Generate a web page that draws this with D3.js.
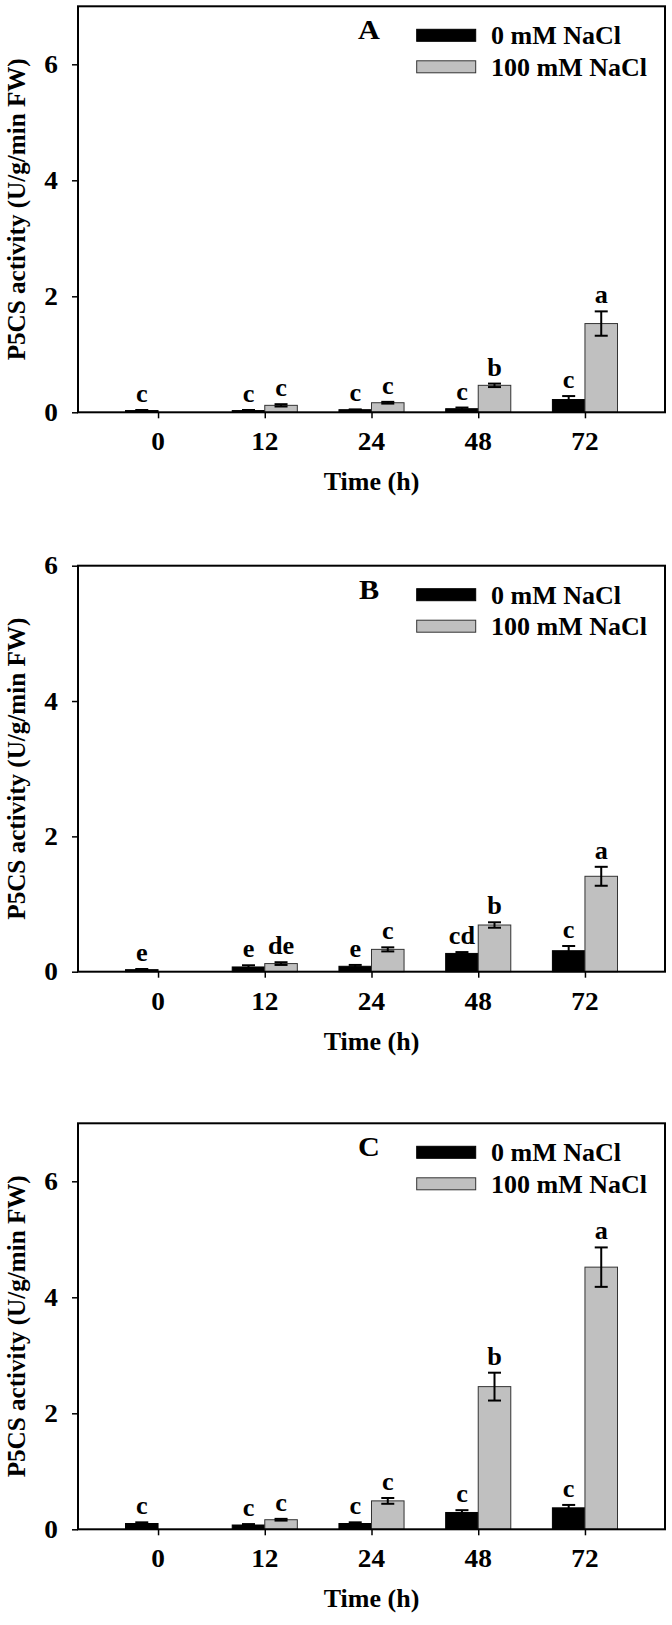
<!DOCTYPE html>
<html>
<head>
<meta charset="utf-8">
<script src="https://cdn.jsdelivr.net/npm/d3@7"></script>
<style>
  html, body { margin: 0; padding: 0; background: #fff; }
  svg { display: block; }
  text { font-family: "Liberation Serif", "Times New Roman", serif; font-weight: bold; fill: #000; }
</style>
</head>
<body>
<svg id="chart" width="672" height="1625"></svg>
<script>
// ---------- data ----------
const categories = ["0", "12", "24", "48", "72"];
const seriesNames = ["0 mM NaCl", "100 mM NaCl"];
const panelLabels = ["A", "B", "C"];
const yMaxes = [7, 6, 7];
const yTickValues = [0, 2, 4, 6];
const xTitle = "Time (h)";
const yTitle = "P5CS activity (U/g/min FW)";

// Panel A
const ctrlA = [0.03, 0.03, 0.045, 0.062, 0.22];
const ctrlErrA = [0.01, 0.01, 0.005, 0.02, 0.06];
const saltA = [null, 0.12, 0.165, 0.465, 1.53];
const saltErrA = [null, 0.02, 0.015, 0.03, 0.21];
const ctrlLettersA = ["c", "c", "c", "c", "c"];
const saltLettersA = ["", "c", "c", "b", "a"];

// Panel B
const ctrlB = [0.03, 0.07, 0.08, 0.27, 0.31];
const ctrlErrB = [0.01, 0.025, 0.02, 0.02, 0.07];
const saltB = [null, 0.12, 0.33, 0.69, 1.41];
const saltErrB = [null, 0.02, 0.03, 0.04, 0.14];
const ctrlLettersB = ["e", "e", "e", "cd", "c"];
const saltLettersB = ["", "de", "c", "b", "a"];

// Panel C
const ctrlC = [0.10, 0.074, 0.10, 0.29, 0.37];
const ctrlErrC = [0.02, 0.016, 0.02, 0.04, 0.05];
const saltC = [null, 0.165, 0.49, 2.46, 4.52];
const saltErrC = [null, 0.015, 0.05, 0.24, 0.34];
const ctrlLettersC = ["c", "c", "c", "c", "c"];
const saltLettersC = ["", "c", "c", "b", "a"];

// ---------- assemble ----------
const panels = [
  {label: panelLabels[0], yMax: yMaxes[0], ctrl: ctrlA, ctrlErr: ctrlErrA, salt: saltA, saltErr: saltErrA, cl: ctrlLettersA, sl: saltLettersA},
  {label: panelLabels[1], yMax: yMaxes[1], ctrl: ctrlB, ctrlErr: ctrlErrB, salt: saltB, saltErr: saltErrB, cl: ctrlLettersB, sl: saltLettersB},
  {label: panelLabels[2], yMax: yMaxes[2], ctrl: ctrlC, ctrlErr: ctrlErrC, salt: saltC, saltErr: saltErrC, cl: ctrlLettersC, sl: saltLettersC}
];

const svg = d3.select("#chart");
svg.append("rect").attr("width", 672).attr("height", 1625).attr("fill", "#fff");

const plotLeft = 78, plotRight = 665, plotH = 406;
const panelTops = [6.3, 565.7, 1123.3];
const colors = ["#000000", "#c0c0c0"];

const x = d3.scalePoint().domain(categories).range([plotLeft, plotRight]).padding(0.75);
const barW = x.step() * 0.305;
const capHalf = 6.5;

function stext(g, tx, ty, str, size, anchor, sx) {
  return g.append("text")
    .attr("transform", `translate(${tx},${ty}) scale(${sx},1)`)
    .attr("text-anchor", anchor)
    .style("font-size", size + "px")
    .text(str);
}

panels.forEach((p, i) => {
  const top = panelTops[i];
  const g = svg.append("g");
  const y = d3.scaleLinear().domain([0, p.yMax]).range([top + plotH, top]);
  const y0 = y(0);

  const rows = categories.map((c, k) => ({c, k}));
  // bars
  rows.forEach(r => {
    const cx = x(r.c);
    if (p.ctrl[r.k] != null) {
      const v = p.ctrl[r.k];
      g.append("rect").attr("x", cx - barW).attr("width", barW)
        .attr("y", y(v)).attr("height", y0 - y(v))
        .attr("fill", colors[0]).attr("stroke", "#000").attr("stroke-width", 1);
    }
    if (p.salt[r.k] != null) {
      const v = p.salt[r.k];
      g.append("rect").attr("x", cx).attr("width", barW)
        .attr("y", y(v)).attr("height", y0 - y(v))
        .attr("fill", colors[1]).attr("stroke", "#333").attr("stroke-width", 1);
    }
  });
  // error bars + letters
  rows.forEach(r => {
    const cx = x(r.c);
    [[p.ctrl, p.ctrlErr, p.cl, -barW / 2], [p.salt, p.saltErr, p.sl, barW / 2]].forEach(([vals, errs, lets, off]) => {
      const v = vals[r.k];
      if (v == null) return;
      const e = errs[r.k];
      const bx = cx + off;
      const yt = y(v + e), yb = y(Math.max(0, v - e));
      g.append("line").attr("x1", bx).attr("x2", bx).attr("y1", yt).attr("y2", yb)
        .attr("stroke", "#000").attr("stroke-width", 2);
      g.append("line").attr("x1", bx - capHalf).attr("x2", bx + capHalf).attr("y1", yt).attr("y2", yt)
        .attr("stroke", "#000").attr("stroke-width", 2);
      g.append("line").attr("x1", bx - capHalf).attr("x2", bx + capHalf).attr("y1", yb).attr("y2", yb)
        .attr("stroke", "#000").attr("stroke-width", 2);
      if (lets[r.k]) stext(g, bx, yt - 8, lets[r.k], 25, "middle", 1.05);
    });
  });

  // frame
  g.append("rect").attr("x", plotLeft).attr("y", top).attr("width", plotRight - plotLeft).attr("height", plotH)
    .attr("fill", "none").attr("stroke", "#000").attr("stroke-width", 2);

  // axis ticks
  const yt = yTickValues.filter(t => t <= p.yMax);
  const ya = g.append("g").attr("transform", `translate(${plotLeft},0)`)
    .call(d3.axisLeft(y).tickValues(yt).tickSize(6).tickFormat(""));
  ya.select(".domain").remove();
  ya.selectAll("line").attr("stroke", "#000").attr("stroke-width", 1.5);
  const xa = g.append("g").attr("transform", `translate(0,${y0})`)
    .call(d3.axisBottom(x).tickSize(6).tickFormat(""));
  xa.select(".domain").remove();
  xa.selectAll("line").attr("stroke", "#000").attr("stroke-width", 1.5);

  // tick labels
  yt.forEach(t => stext(g, 58, y(t) + 8.5, String(t), 26, "end", 1.05));
  categories.forEach(c => stext(g, x(c), y0 + 38, c, 26, "middle", 1.05));

  // axis titles
  stext(g, (plotLeft + plotRight) / 2, y0 + 78, xTitle, 26, "middle", 1.0);
  g.append("text")
    .attr("transform", `translate(25,${top + plotH / 2}) rotate(-90)`)
    .attr("text-anchor", "middle")
    .attr("textLength", 302).attr("lengthAdjust", "spacingAndGlyphs")
    .style("font-size", "25px")
    .text(yTitle);

  // panel letter
  stext(g, 369, top + 33, p.label, 28, "middle", 1.08);

  // legend
  const lx = 416.7, lw = 59;
  seriesNames.forEach((s, j) => {
    const ry = top + 23 + j * 31.5;
    g.append("rect").attr("x", lx).attr("y", ry).attr("width", lw).attr("height", 12)
      .attr("fill", colors[j]).attr("stroke", j === 0 ? "#000" : "#333").attr("stroke-width", 1);
    stext(g, 491, ry + 15, s, 26, "start", 1.0);
  });
});
</script>
</body>
</html>
